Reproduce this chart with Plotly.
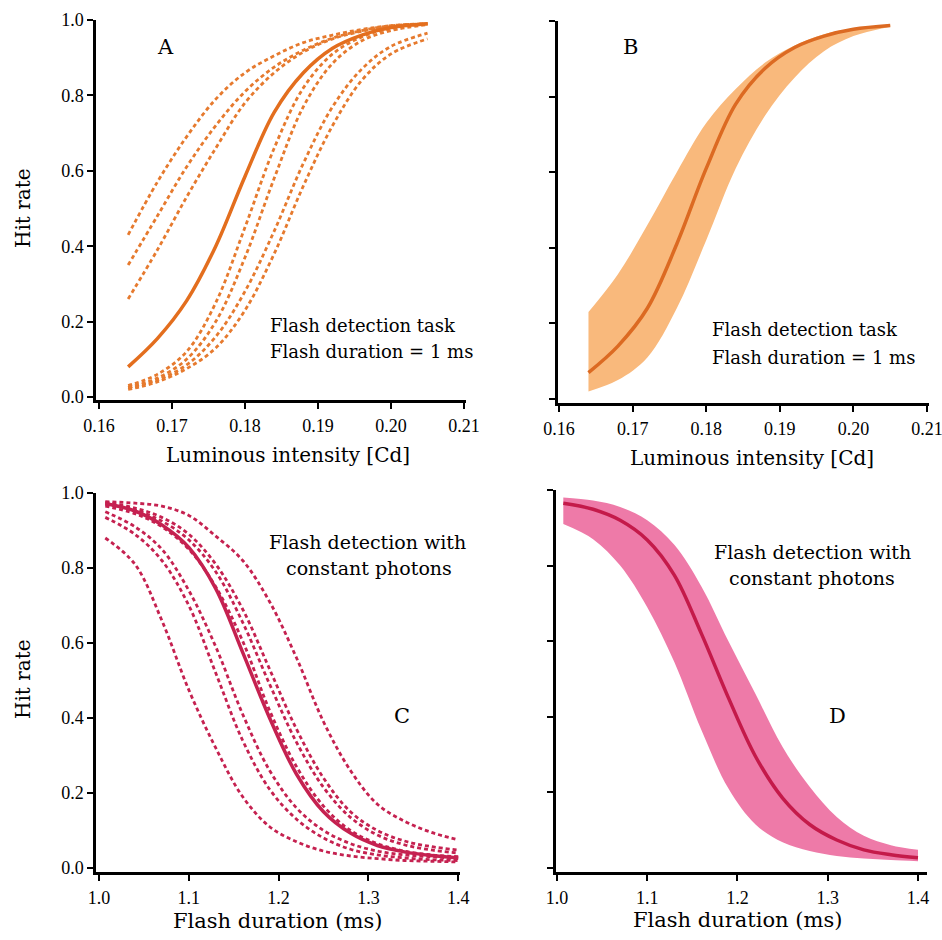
import plotly.graph_objects as go

# ---------------- data ----------------
# Panel A / B : luminous intensity (Cd)
A_X = [0.164, 0.168, 0.172, 0.176, 0.180, 0.184, 0.188, 0.192, 0.196, 0.200, 0.205]
A_MEAN = [0.08, 0.155, 0.255, 0.40, 0.585, 0.755, 0.86, 0.925, 0.96, 0.98, 0.99]
A_SUBJ_1 = [0.43, 0.57, 0.69, 0.79, 0.86, 0.905, 0.94, 0.96, 0.975, 0.985, 0.99]
A_SUBJ_2 = [0.35, 0.48, 0.61, 0.72, 0.81, 0.875, 0.92, 0.952, 0.972, 0.985, 0.99]
A_SUBJ_3 = [0.26, 0.39, 0.53, 0.66, 0.78, 0.86, 0.915, 0.95, 0.97, 0.983, 0.99]
A_SUBJ_4 = [0.03, 0.06, 0.12, 0.25, 0.45, 0.66, 0.82, 0.91, 0.955, 0.978, 0.99]
A_SUBJ_5 = [0.025, 0.05, 0.10, 0.20, 0.37, 0.58, 0.77, 0.885, 0.945, 0.972, 0.988]
A_SUBJ_6 = [0.025, 0.045, 0.085, 0.16, 0.28, 0.44, 0.62, 0.77, 0.87, 0.93, 0.965]
A_SUBJ_7 = [0.02, 0.04, 0.075, 0.13, 0.23, 0.38, 0.56, 0.72, 0.84, 0.91, 0.95]

B_MEAN = [0.07, 0.14, 0.24, 0.41, 0.61, 0.78, 0.875, 0.93, 0.96, 0.978, 0.988]
B_UPPER = [0.23, 0.33, 0.46, 0.60, 0.73, 0.82, 0.89, 0.935, 0.965, 0.98, 0.99]
B_LOWER = [0.02, 0.05, 0.11, 0.24, 0.42, 0.61, 0.75, 0.85, 0.92, 0.96, 0.985]

# Panel C / D : flash duration (ms)
C_X = [1.007, 1.04, 1.07, 1.10, 1.13, 1.16, 1.19, 1.22, 1.25, 1.28, 1.31, 1.34, 1.37, 1.40]
C_MEAN = [0.972, 0.952, 0.915, 0.855, 0.745, 0.575, 0.40, 0.25, 0.15, 0.093, 0.06, 0.043, 0.033, 0.027]
C_SUBJ_1 = [0.977, 0.973, 0.965, 0.94, 0.885, 0.82, 0.71, 0.56, 0.39, 0.26, 0.17, 0.125, 0.095, 0.075]
C_SUBJ_2 = [0.975, 0.96, 0.935, 0.89, 0.81, 0.69, 0.53, 0.37, 0.24, 0.15, 0.10, 0.072, 0.057, 0.048]
C_SUBJ_3 = [0.97, 0.955, 0.925, 0.875, 0.79, 0.655, 0.49, 0.335, 0.215, 0.135, 0.088, 0.062, 0.048, 0.04]
C_SUBJ_4 = [0.965, 0.945, 0.91, 0.85, 0.75, 0.605, 0.42, 0.27, 0.165, 0.10, 0.065, 0.045, 0.035, 0.03]
C_SUBJ_5 = [0.95, 0.91, 0.85, 0.74, 0.59, 0.41, 0.26, 0.16, 0.10, 0.065, 0.045, 0.035, 0.03, 0.025]
C_SUBJ_6 = [0.935, 0.89, 0.82, 0.70, 0.52, 0.34, 0.21, 0.13, 0.08, 0.05, 0.035, 0.027, 0.022, 0.02]
C_SUBJ_7 = [0.88, 0.81, 0.66, 0.475, 0.32, 0.19, 0.11, 0.07, 0.045, 0.032, 0.025, 0.02, 0.018, 0.016]

D_MEAN = [0.965, 0.949, 0.92, 0.868, 0.775, 0.62, 0.45, 0.295, 0.185, 0.115, 0.074, 0.048, 0.035, 0.027]
D_UPPER = [0.98, 0.972, 0.955, 0.92, 0.855, 0.745, 0.60, 0.46, 0.32, 0.215, 0.135, 0.085, 0.06, 0.048]
D_LOWER = [0.91, 0.87, 0.80, 0.69, 0.545, 0.365, 0.21, 0.115, 0.068, 0.045, 0.032, 0.025, 0.021, 0.018]

Y_TICKS = [0.0, 0.2, 0.4, 0.6, 0.8, 1.0]
LUM_TICKS = [0.16, 0.17, 0.18, 0.19, 0.20, 0.21]
DUR_TICKS = [1.0, 1.1, 1.2, 1.3, 1.4]

# ---------------- styles ----------------
W, H = 942, 940
ORANGE_DASH = '#E67A2E'
ORANGE_SOLID = '#E36E1E'
ORANGE_FILL = '#F9B97C'
B_LINE = '#DC6A22'
CRIMSON = '#C52150'
PINK_FILL = '#EE7AA8'
D_LINE = '#C41A4A'
SERIF = 'DejaVu Serif'
TICKFONT = dict(family='Liberation Serif', size=18, color='black')


def px(xp):
    return xp / W


def py(yp):
    return 1 - yp / H


fig = go.Figure()

# Panel A
for ys in [A_SUBJ_1, A_SUBJ_2, A_SUBJ_3, A_SUBJ_4, A_SUBJ_5, A_SUBJ_6, A_SUBJ_7]:
    fig.add_trace(go.Scatter(x=A_X, y=ys, mode='lines', line=dict(color=ORANGE_DASH, width=2.8, dash='4px,3px', shape='spline'),
                             xaxis='x', yaxis='y', hoverinfo='skip', showlegend=False))
fig.add_trace(go.Scatter(x=A_X, y=A_MEAN, mode='lines', line=dict(color=ORANGE_SOLID, width=3.5, shape='spline'),
                         xaxis='x', yaxis='y', showlegend=False))

# Panel B
fig.add_trace(go.Scatter(x=A_X, y=B_UPPER, mode='lines', line=dict(width=0, color=ORANGE_FILL, shape='spline'),
                         xaxis='x2', yaxis='y2', showlegend=False, hoverinfo='skip'))
fig.add_trace(go.Scatter(x=A_X, y=B_LOWER, mode='lines', line=dict(width=0, color=ORANGE_FILL, shape='spline'),
                         fill='tonexty', fillcolor=ORANGE_FILL, xaxis='x2', yaxis='y2', showlegend=False, hoverinfo='skip'))
fig.add_trace(go.Scatter(x=A_X, y=B_MEAN, mode='lines', line=dict(color=B_LINE, width=3.5, shape='spline'),
                         xaxis='x2', yaxis='y2', showlegend=False))

# Panel C
for ys in [C_SUBJ_1, C_SUBJ_2, C_SUBJ_3, C_SUBJ_4, C_SUBJ_5, C_SUBJ_6, C_SUBJ_7]:
    fig.add_trace(go.Scatter(x=C_X, y=ys, mode='lines', line=dict(color=CRIMSON, width=2.8, dash='4px,3px', shape='spline'),
                             xaxis='x3', yaxis='y3', hoverinfo='skip', showlegend=False))
fig.add_trace(go.Scatter(x=C_X, y=C_MEAN, mode='lines', line=dict(color=CRIMSON, width=3.5, shape='spline'),
                         xaxis='x3', yaxis='y3', showlegend=False))

# Panel D
fig.add_trace(go.Scatter(x=C_X, y=D_UPPER, mode='lines', line=dict(width=0, color=PINK_FILL, shape='spline'),
                         xaxis='x4', yaxis='y4', showlegend=False, hoverinfo='skip'))
fig.add_trace(go.Scatter(x=C_X, y=D_LOWER, mode='lines', line=dict(width=0, color=PINK_FILL, shape='spline'),
                         fill='tonexty', fillcolor=PINK_FILL, xaxis='x4', yaxis='y4', showlegend=False, hoverinfo='skip'))
fig.add_trace(go.Scatter(x=C_X, y=D_MEAN, mode='lines', line=dict(color=D_LINE, width=3.5, shape='spline'),
                         xaxis='x4', yaxis='y4', showlegend=False))

common = dict(showline=True, linecolor='black', linewidth=2.5, ticks='outside', ticklen=6, tickwidth=2,
              tickcolor='black', showgrid=False, zeroline=False, tickfont=TICKFONT, fixedrange=True,
              automargin=False)
xcommon = dict(common, ticklabelstandoff=2, ticklabeloverflow='allow')

fig.update_layout(
    width=W, height=H, margin=dict(l=0, r=0, t=0, b=0, autoexpand=False),
    paper_bgcolor='white', plot_bgcolor='white', showlegend=False,
    xaxis=dict(xcommon, domain=[px(96), px(465.5)], range=[0.1596, 0.2102], tickvals=LUM_TICKS,
               tickformat='.2f', anchor='y'),
    yaxis=dict(common, domain=[py(400), py(20)], range=[-0.008, 1.0], tickvals=Y_TICKS, tickformat='.1f', anchor='x'),
    xaxis2=dict(xcommon, domain=[px(558), px(928.5)], range=[0.15986, 0.2102], tickvals=LUM_TICKS,
                tickformat='.2f', anchor='y2'),
    yaxis2=dict(common, domain=[py(403), py(21)], range=[-0.0106, 1.0], tickvals=Y_TICKS, showticklabels=False,
                anchor='x2'),
    xaxis3=dict(xcommon, domain=[px(96), px(460)], range=[0.99666, 1.402], tickvals=DUR_TICKS,
                tickformat='.1f', anchor='y3'),
    yaxis3=dict(common, domain=[py(872), py(493)], range=[-0.0107, 1.0], tickvals=Y_TICKS, tickformat='.1f',
                anchor='x3'),
    xaxis4=dict(xcommon, domain=[px(556), px(927)], range=[0.9989, 1.41], tickvals=DUR_TICKS,
                tickformat='.1f', anchor='y4'),
    yaxis4=dict(common, domain=[py(872), py(490)], range=[-0.0106, 1.0], tickvals=Y_TICKS, showticklabels=False,
                anchor='x4'),
)


def note(text, x, y, size, xanchor='center', angle=0):
    fig.add_annotation(text=text, x=px(x), y=py(y), xref='paper', yref='paper', showarrow=False,
                       xanchor=xanchor, yanchor='middle', textangle=angle,
                       font=dict(family=SERIF, size=size, color='black'))


# axis titles
note('Hit rate', 23, 208, 20, angle=-90)
note('Hit rate', 23, 679, 20, angle=-90)
note('Luminous intensity [Cd]', 288, 455, 20)
note('Luminous intensity [Cd]', 752, 458, 20)
note('Flash duration (ms)', 277, 921, 21)
note('Flash duration (ms)', 737, 920, 21)

# panel letters
note('A', 165, 47, 21)
note('B', 630, 47, 21)
note('C', 402, 716, 21)
note('D', 837, 716, 21)

# panel texts
note('Flash detection task', 268, 325, 18, xanchor='left')
note('Flash duration = 1 ms', 268, 351, 18, xanchor='left')
note('Flash detection task', 710, 329, 18, xanchor='left')
note('Flash duration = 1 ms', 710, 357, 18, xanchor='left')
note('Flash detection with', 367, 542, 19)
note('constant photons', 369, 568, 19)
note('Flash detection with', 812, 552, 19)
note('constant photons', 812, 578, 19)

fig.write_html('out.html', config={'displayModeBar': False},
               post_script="document.body.style.margin='0';document.body.style.overflow='hidden';")
